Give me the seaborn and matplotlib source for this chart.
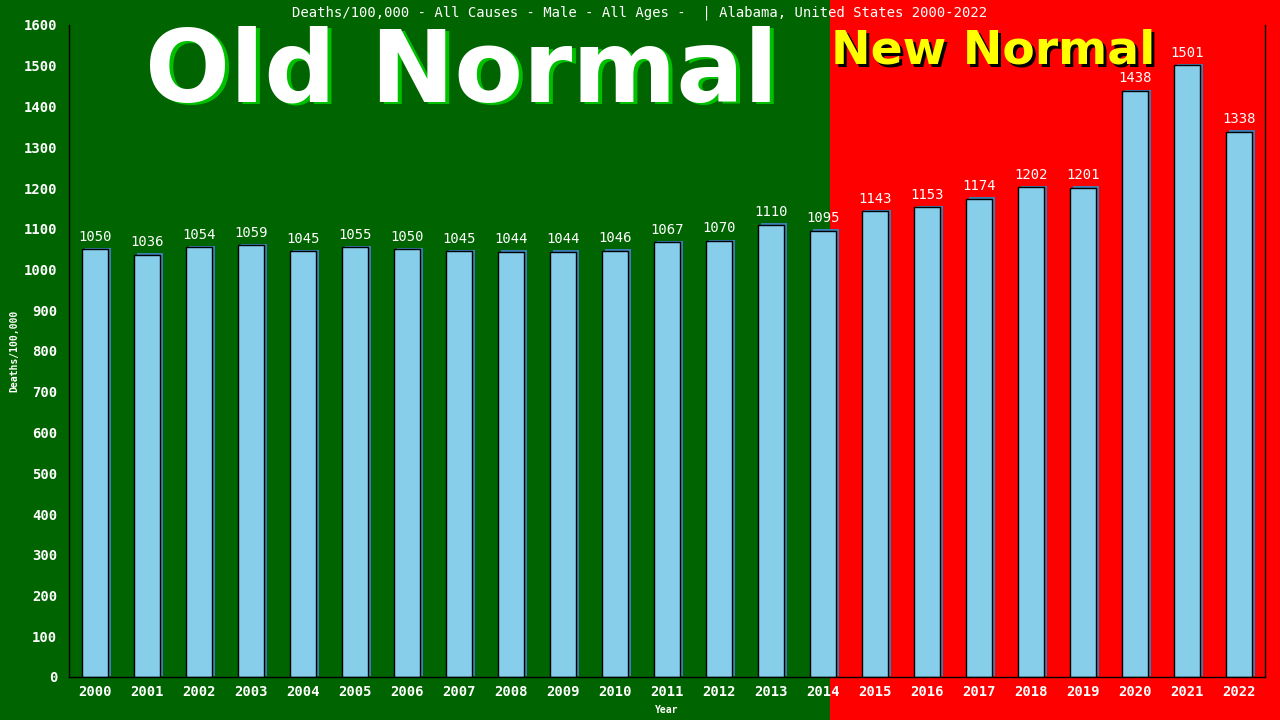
import pandas as pd
import matplotlib
matplotlib.use("Agg")
import matplotlib.pyplot as plt
import matplotlib.patheffects as pe
from matplotlib.patches import Rectangle
from matplotlib.transforms import offset_copy
import seaborn as sns

# Data
years = [str(y) for y in range(2000, 2023)]
deaths = [1050, 1036, 1054, 1059, 1045, 1055, 1050, 1045, 1044, 1044, 1046, 1067,
          1070, 1110, 1095, 1143, 1153, 1174, 1202, 1201, 1438, 1501, 1338]
yticks = list(range(0, 1700, 100))
title = "Deaths/100,000 - All Causes - Male - All Ages -  | Alabama, United States 2000-2022"

GREEN = "#006400"
RED = "#ff0000"
BAR = "#87ceeb"
MONO = "DejaVu Sans Mono"

df = pd.DataFrame({"year": years, "deaths": deaths})

sns.set_style("white")
fig = plt.figure(figsize=(12.8, 7.2), dpi=100, facecolor=GREEN)
# red "new normal" background on the right part of the figure
fig.patches.append(Rectangle((830 / 1280, 0), 1 - 830 / 1280, 1, transform=fig.transFigure,
                             facecolor=RED, edgecolor="none", zorder=-10))

ax = fig.add_axes([69 / 1280, 43 / 720, 1196 / 1280, 652 / 720])
ax.set_facecolor("none")

sns.barplot(data=df, x="year", y="deaths", order=years, color=BAR, width=0.5,
            saturation=1, edgecolor="black", linewidth=1, ax=ax)
for bar in ax.patches:
    bar.set_path_effects([pe.SimplePatchShadow(offset=(2, 1), shadow_rgbFace="#3b7fb5", alpha=1),
                          pe.Normal()])

ax.bar_label(ax.containers[0], labels=[str(v) for v in deaths], padding=4,
             color="white", fontsize=10, family=MONO)

ax.set_xlim(-0.5, 22.5)
ax.set_ylim(0, 1600)
ax.set_yticks(yticks)
ax.tick_params(axis="y", colors="black", labelcolor="white", length=5, width=1, labelsize=10)
ax.tick_params(axis="x", length=0, labelcolor="white", labelsize=10, pad=6)
for lab in ax.get_xticklabels() + ax.get_yticklabels():
    lab.set_family(MONO)
    lab.set_fontweight("bold")

for side in ["left", "bottom", "right"]:
    ax.spines[side].set_visible(True)
    ax.spines[side].set_color("black")
    ax.spines[side].set_linewidth(1)
ax.spines["top"].set_visible(False)

ax.set_xlabel("Year", color="white", fontsize=7, family=MONO, fontweight="bold", labelpad=4)
ax.set_ylabel("Deaths/100,000", color="white", fontsize=7, family=MONO, fontweight="bold", labelpad=3)

fig.text(0.5, 1 - 13 / 720, title, color="white", fontsize=10, family=MONO,
         ha="center", va="center")

# "Old Normal" banner with green shadow
tr = offset_copy(fig.transFigure, fig=fig, x=4, y=-2, units="dots")
fig.text(462 / 1280, 1 - 74 / 720, "Old Normal", transform=tr, color="#00c000",
         fontsize=72, fontweight="bold", family="DejaVu Sans", ha="center", va="center")
fig.text(462 / 1280, 1 - 74 / 720, "Old Normal", color="white",
         fontsize=72, fontweight="bold", family="DejaVu Sans", ha="center", va="center")

# "New Normal" banner with black shadow
tr2 = offset_copy(fig.transFigure, fig=fig, x=3, y=-3, units="dots")
fig.text(831 / 1280, 1 - 51 / 720, "New Normal", transform=tr2, color="black",
         fontsize=34, fontweight="bold", family="DejaVu Sans", ha="left", va="center")
fig.text(831 / 1280, 1 - 51 / 720, "New Normal", color="#ffff00",
         fontsize=34, fontweight="bold", family="DejaVu Sans", ha="left", va="center")

fig.savefig("out.png", dpi=100, facecolor=fig.get_facecolor())
